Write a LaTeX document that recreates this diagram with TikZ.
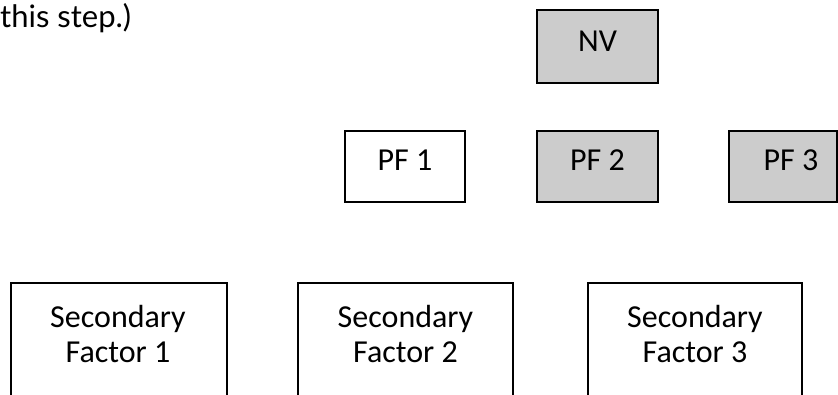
\documentclass[tikz,border=0pt]{standalone}
\usepackage{fontspec}
\setmainfont{Carlito}
\newfontfamily\notefont{Lato}
\definecolor{boxgray}{RGB}{204,204,204}
\begin{document}
\begin{tikzpicture}[x=1pt,y=-1pt,
  boxline/.style={draw=black,line width=2pt},
  graybox/.style={boxline,fill=boxgray},
  whitebox/.style={boxline,fill=white},
  boxtext/.style={font=\fontsize{32}{38}\selectfont,anchor=base,inner sep=0pt,align=center},
  notetext/.style={font=\notefont\fontsize{31}{37}\selectfont,anchor=base west,inner sep=0pt}]
\useasboundingbox (0,0) rectangle (838,394);
\clip (0,0) rectangle (838,394);
% note text
\node[notetext] (note) at (0,27) {this step.)};
% boxes
\draw[graybox] (537,10) rectangle (658,83);
\node[boxtext] (nv) at (597.5,51) {NV};
\draw[whitebox] (345,131) rectangle (465,202);
\node[boxtext] (pf1) at (405,170) {PF 1};
\draw[graybox] (537,131) rectangle (658,202);
\node[boxtext] (pf2) at (597.5,170) {PF 2};
\draw[graybox] (729,131) rectangle (837,202);
\node[boxtext] (pf3) at (791,170) {PF 3};
\draw[whitebox] (11,283) rectangle (227,420);
\draw[whitebox] (298,283) rectangle (513,420);
\draw[whitebox] (588,283) rectangle (802,420);
\node[boxtext] (s1a) at (118,327) {Secondary};
\node[boxtext] (s1b) at (118,362) {Factor 1};
\node[boxtext] (s2a) at (405.5,327) {Secondary};
\node[boxtext] (s2b) at (405.5,362) {Factor 2};
\node[boxtext] (s3a) at (695,327) {Secondary};
\node[boxtext] (s3b) at (695,362) {Factor 3};
\end{tikzpicture}
\end{document}
